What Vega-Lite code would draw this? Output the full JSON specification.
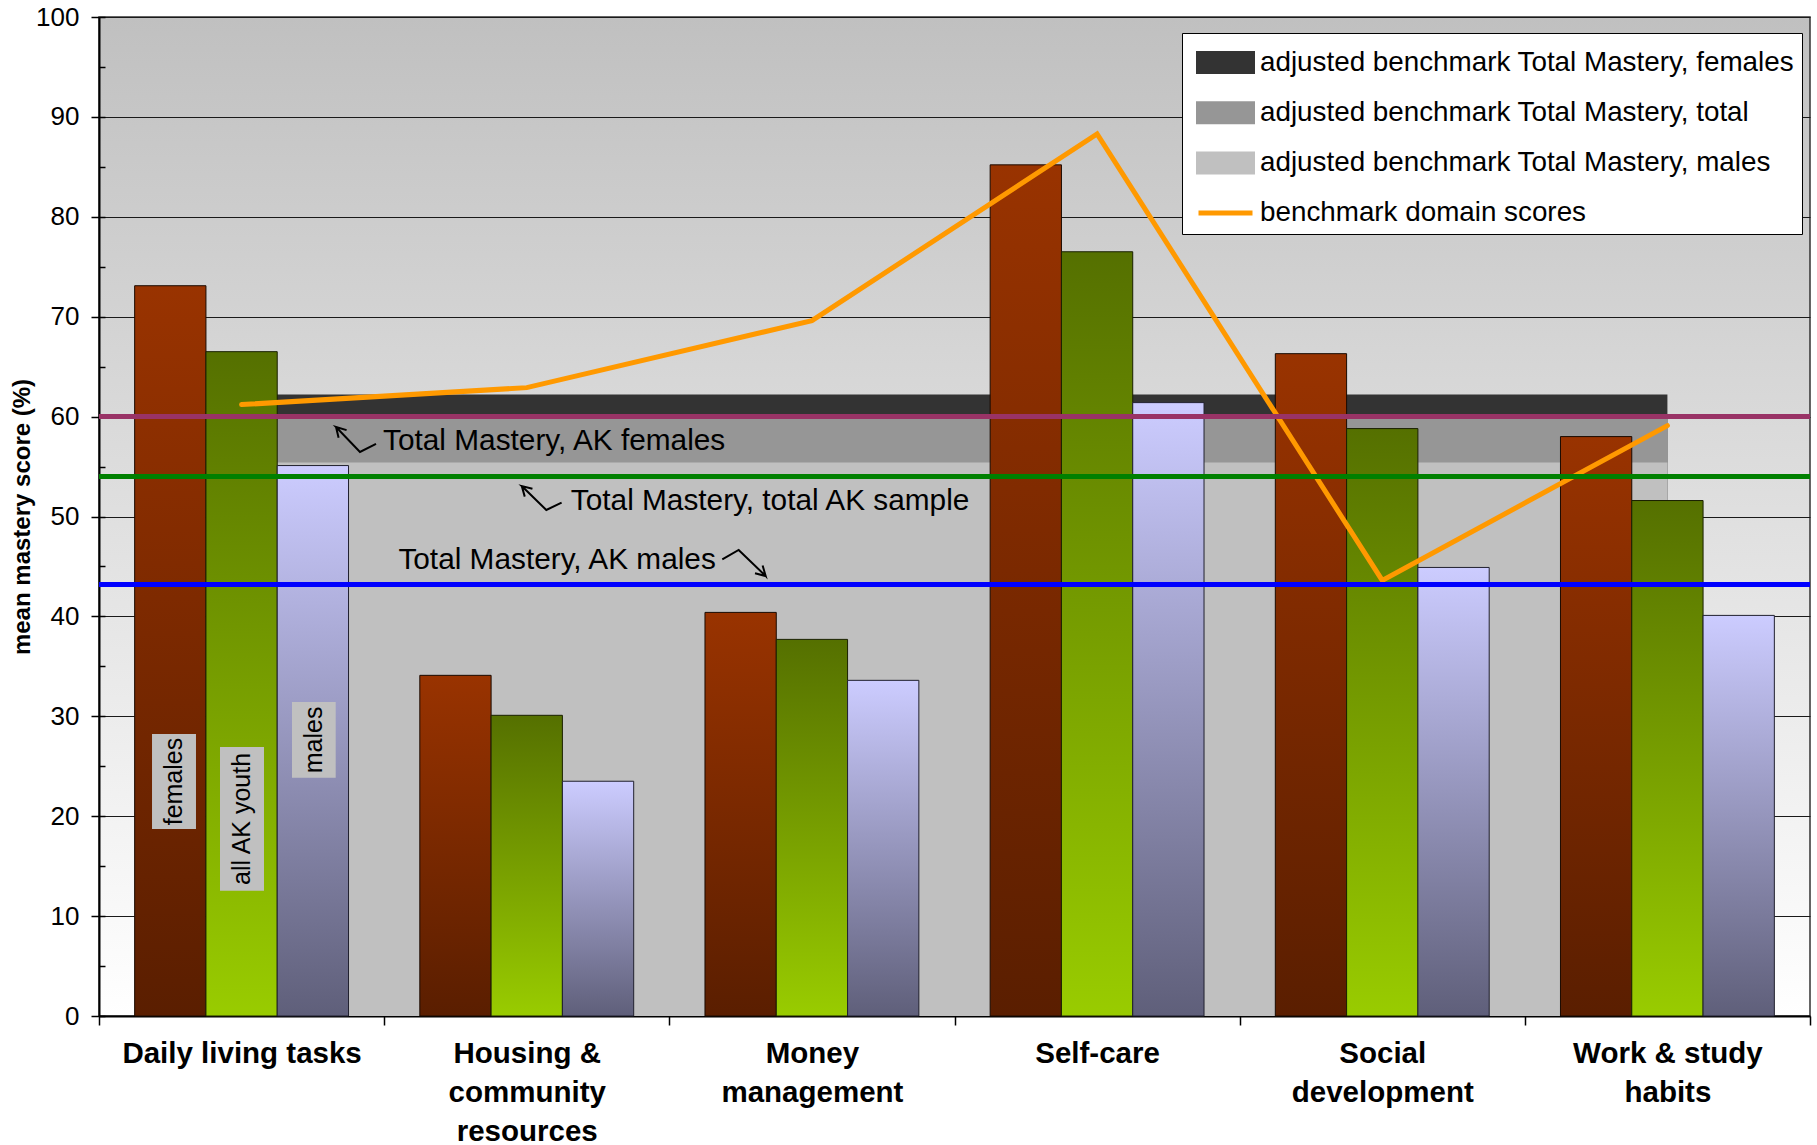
{
  "$schema": "https://vega.github.io/schema/vega-lite/v6.json",
  "width": 1711,
  "height": 999,
  "autosize": {"type": "none"},
  "padding": {"left": 99, "top": 17, "right": 7, "bottom": 129},
  "background": "white",
  "config": {
    "font": "Liberation Sans",
    "view": {
      "fill": {"gradient": "linear", "x1": 0, "y1": 0, "x2": 0, "y2": 1,
        "stops": [{"offset": 0, "color": "#c0c0c0"}, {"offset": 1, "color": "#ffffff"}]},
      "stroke": "#333333",
      "strokeWidth": 1.5
    }
  },
  "datasets": {
    "bars": [
      {"domain": "Daily living tasks", "group": "females", "score": 73.1},
      {"domain": "Daily living tasks", "group": "all", "score": 66.5},
      {"domain": "Daily living tasks", "group": "males", "score": 55.1},
      {"domain": "Housing & community resources", "group": "females", "score": 34.1},
      {"domain": "Housing & community resources", "group": "all", "score": 30.1},
      {"domain": "Housing & community resources", "group": "males", "score": 23.5},
      {"domain": "Money management", "group": "females", "score": 40.4},
      {"domain": "Money management", "group": "all", "score": 37.7},
      {"domain": "Money management", "group": "males", "score": 33.6},
      {"domain": "Self-care", "group": "females", "score": 85.2},
      {"domain": "Self-care", "group": "all", "score": 76.5},
      {"domain": "Self-care", "group": "males", "score": 61.4},
      {"domain": "Social development", "group": "females", "score": 66.3},
      {"domain": "Social development", "group": "all", "score": 58.8},
      {"domain": "Social development", "group": "males", "score": 44.9},
      {"domain": "Work & study habits", "group": "females", "score": 58.0},
      {"domain": "Work & study habits", "group": "all", "score": 51.6},
      {"domain": "Work & study habits", "group": "males", "score": 40.1}
    ],
    "benchmarks": [
      {"domain": "Daily living tasks", "series": "adjusted benchmark Total Mastery, females", "value": 62.2},
      {"domain": "Housing & community resources", "series": "adjusted benchmark Total Mastery, females", "value": 62.2},
      {"domain": "Money management", "series": "adjusted benchmark Total Mastery, females", "value": 62.2},
      {"domain": "Self-care", "series": "adjusted benchmark Total Mastery, females", "value": 62.2},
      {"domain": "Social development", "series": "adjusted benchmark Total Mastery, females", "value": 62.2},
      {"domain": "Work & study habits", "series": "adjusted benchmark Total Mastery, females", "value": 62.2},
      {"domain": "Daily living tasks", "series": "adjusted benchmark Total Mastery, total", "value": 60.1},
      {"domain": "Housing & community resources", "series": "adjusted benchmark Total Mastery, total", "value": 60.1},
      {"domain": "Money management", "series": "adjusted benchmark Total Mastery, total", "value": 60.1},
      {"domain": "Self-care", "series": "adjusted benchmark Total Mastery, total", "value": 60.1},
      {"domain": "Social development", "series": "adjusted benchmark Total Mastery, total", "value": 60.1},
      {"domain": "Work & study habits", "series": "adjusted benchmark Total Mastery, total", "value": 60.1},
      {"domain": "Daily living tasks", "series": "adjusted benchmark Total Mastery, males", "value": 55.4},
      {"domain": "Housing & community resources", "series": "adjusted benchmark Total Mastery, males", "value": 55.4},
      {"domain": "Money management", "series": "adjusted benchmark Total Mastery, males", "value": 55.4},
      {"domain": "Self-care", "series": "adjusted benchmark Total Mastery, males", "value": 55.4},
      {"domain": "Social development", "series": "adjusted benchmark Total Mastery, males", "value": 55.4},
      {"domain": "Work & study habits", "series": "adjusted benchmark Total Mastery, males", "value": 55.4}
    ],
    "domainScores": [
      {"domain": "Daily living tasks", "series": "benchmark domain scores", "score": 61.2},
      {"domain": "Housing & community resources", "series": "benchmark domain scores", "score": 62.9},
      {"domain": "Money management", "series": "benchmark domain scores", "score": 69.6},
      {"domain": "Self-care", "series": "benchmark domain scores", "score": 88.3},
      {"domain": "Social development", "series": "benchmark domain scores", "score": 43.6},
      {"domain": "Work & study habits", "series": "benchmark domain scores", "score": 59.1}
    ],
    "references": [
      {"ref": "Total Mastery, AK females", "level": 60.0},
      {"ref": "Total Mastery, total AK sample", "level": 54.0},
      {"ref": "Total Mastery, AK males", "level": 43.2}
    ],
    "notes": [
      {"note": "Total Mastery, AK females", "ax": 0.996, "ay": 56.66},
      {"note": "Total Mastery, total AK sample", "ax": 1.6545, "ay": 50.65},
      {"note": "Total Mastery, AK males", "ax": 1.0499, "ay": 44.71}
    ],
    "arrows": [
      {"arrow": "females", "ord": 1, "ax": 0.8402, "ay": 57.89},
      {"arrow": "females", "ord": 2, "ax": 0.8311, "ay": 58.96},
      {"arrow": "females", "ord": 3, "ax": 0.8682, "ay": 58.65},
      {"arrow": "females", "ord": 4, "ax": 0.8311, "ay": 58.96},
      {"arrow": "females", "ord": 5, "ax": 0.9152, "ay": 56.46},
      {"arrow": "females", "ord": 6, "ax": 0.9714, "ay": 57.26},
      {"arrow": "total", "ord": 1, "ax": 1.4930, "ay": 51.99},
      {"arrow": "total", "ord": 2, "ax": 1.4826, "ay": 53.05},
      {"arrow": "total", "ord": 3, "ax": 1.5200, "ay": 52.78},
      {"arrow": "total", "ord": 4, "ax": 1.4826, "ay": 53.05},
      {"arrow": "total", "ord": 5, "ax": 1.5686, "ay": 50.65},
      {"arrow": "total", "ord": 6, "ax": 1.6222, "ay": 51.38},
      {"arrow": "males", "ord": 1, "ax": 2.1857, "ay": 45.72},
      {"arrow": "males", "ord": 2, "ax": 2.2431, "ay": 46.65},
      {"arrow": "males", "ord": 3, "ax": 2.3379, "ay": 44.04},
      {"arrow": "males", "ord": 4, "ax": 2.3271, "ay": 45.09},
      {"arrow": "males", "ord": 5, "ax": 2.3379, "ay": 44.04},
      {"arrow": "males", "ord": 6, "ax": 2.3004, "ay": 44.31}
    ],
    "tags": [
      {"tag": "females", "x1": 0.1859, "x2": 0.3401, "y1": 18.72, "y2": 28.23, "cx": 0.2630, "cy": 23.47},
      {"tag": "all AK youth", "x1": 0.4243, "x2": 0.5786, "y1": 12.54, "y2": 26.93, "cx": 0.5015, "cy": 19.73},
      {"tag": "males", "x1": 0.6768, "x2": 0.8300, "y1": 23.85, "y2": 31.43, "cx": 0.7534, "cy": 27.64}
    ]
  },
  "layer": [
    {
      "layer": [
        {
          "data": {"name": "benchmarks"},
          "mark": {"type": "area", "opacity": 1},
          "encoding": {
            "x": {
              "field": "domain", "type": "nominal",
              "scale": {
                "domain": ["Daily living tasks", "Housing & community resources", "Money management", "Self-care", "Social development", "Work & study habits"],
                "paddingInner": 0, "paddingOuter": 0
              },
              "axis": {
                "title": null,
                "tickBand": "extent",
                "tickSize": 9, "tickColor": "#000000", "tickWidth": 1.5,
                "domainColor": "#000000", "domainWidth": 2,
                "labelFont": "Liberation Sans", "labelFontWeight": "bold", "labelFontSize": 29.5,
                "labelColor": "#000000", "labelAngle": 0, "labelPadding": 14,
                "labelLineHeight": 39, "labelLimit": 0, "labelBaseline": "top",
                "labelExpr": "datum.value == 'Housing & community resources' ? ['Housing &', 'community', 'resources'] : datum.value == 'Money management' ? ['Money', 'management'] : datum.value == 'Social development' ? ['Social', 'development'] : datum.value == 'Work & study habits' ? ['Work & study', 'habits'] : datum.label"
              }
            },
            "y": {
              "field": "value", "type": "quantitative", "stack": null,
              "scale": {"domain": [0, 100], "nice": false},
              "axis": {
                "title": "mean mastery score (%)",
                "titleFont": "Liberation Sans", "titleFontSize": 24, "titleFontWeight": "bold",
                "titleColor": "#000000", "titlePadding": 1,
                "values": [0, 10, 20, 30, 40, 50, 60, 70, 80, 90, 100],
                "tickSize": 8, "tickColor": "#000000", "tickWidth": 1.5,
                "labelFont": "Liberation Sans", "labelFontSize": 26, "labelColor": "#000000", "labelPadding": 12,
                "domainColor": "#000000", "domainWidth": 2,
                "grid": true, "gridColor": "#1a1a1a", "gridWidth": 1, "gridOpacity": 1
              }
            },
            "color": {
              "field": "series", "type": "nominal",
              "scale": {
                "domain": ["adjusted benchmark Total Mastery, females", "adjusted benchmark Total Mastery, total", "adjusted benchmark Total Mastery, males", "benchmark domain scores"],
                "range": ["#333333", "#969696", "#c0c0c0", "#ff9900"]
              },
              "legend": {
                "orient": "none", "legendX": 1083, "legendY": 16,
                "title": null,
                "labelFont": "Liberation Sans", "labelFontSize": 27.8, "labelColor": "#000000", "labelLimit": 0,
                "symbolSize": 1600, "symbolOffset": 14, "labelOffset": 12,
                "symbolType": {"expr": "datum.value === 'benchmark domain scores' ? 'M-1.35,0L1.35,0' : 'M-1.35,-0.45L1.35,-0.45L1.35,0.45L-1.35,0.45Z'"},
                "symbolStrokeColor": {"expr": "datum.value === 'benchmark domain scores' ? '#ff9900' : 'transparent'"},
                "symbolStrokeWidth": 5,
                "symbolOpacity": 1,
                "rowPadding": 8.2, "padding": 7,
                "fillColor": "#ffffff", "strokeColor": "#000000"
              }
            }
          }
        },
        {
          "data": {"name": "bars"},
          "transform": [{"filter": "datum.group === 'females'"}],
          "mark": {"type": "bar",
            "fill": {"gradient": "linear", "x1": 0, "y1": 0, "x2": 0, "y2": 1,
              "stops": [{"offset": 0, "color": "#993300"}, {"offset": 1, "color": "#5a1e00"}]},
            "stroke": "#1a0a00", "strokeWidth": 1},
          "encoding": {
            "x": {"field": "domain", "type": "nominal"},
            "xOffset": {"field": "group", "type": "nominal", "scale": {"domain": ["females", "all", "males"], "paddingInner": 0, "paddingOuter": 0.5}},
            "y": {"field": "score", "type": "quantitative", "scale": {"domain": [0, 100], "nice": false}}
          }
        },
        {
          "data": {"name": "bars"},
          "transform": [{"filter": "datum.group === 'all'"}],
          "mark": {"type": "bar",
            "fill": {"gradient": "linear", "x1": 0, "y1": 0, "x2": 0, "y2": 1,
              "stops": [{"offset": 0, "color": "#557000"}, {"offset": 1, "color": "#99cc00"}]},
            "stroke": "#1a2000", "strokeWidth": 1},
          "encoding": {
            "x": {"field": "domain", "type": "nominal"},
            "xOffset": {"field": "group", "type": "nominal", "scale": {"domain": ["females", "all", "males"], "paddingInner": 0, "paddingOuter": 0.5}},
            "y": {"field": "score", "type": "quantitative", "scale": {"domain": [0, 100], "nice": false}}
          }
        },
        {
          "data": {"name": "bars"},
          "transform": [{"filter": "datum.group === 'males'"}],
          "mark": {"type": "bar",
            "fill": {"gradient": "linear", "x1": 0, "y1": 0, "x2": 0, "y2": 1,
              "stops": [{"offset": 0, "color": "#ccccff"}, {"offset": 1, "color": "#5f5f7a"}]},
            "stroke": "#20202e", "strokeWidth": 1},
          "encoding": {
            "x": {"field": "domain", "type": "nominal"},
            "xOffset": {"field": "group", "type": "nominal", "scale": {"domain": ["females", "all", "males"], "paddingInner": 0, "paddingOuter": 0.5}},
            "y": {"field": "score", "type": "quantitative", "scale": {"domain": [0, 100], "nice": false}}
          }
        },
        {
          "data": {"name": "domainScores"},
          "mark": {"type": "line", "strokeWidth": 5, "strokeCap": "round", "strokeJoin": "miter"},
          "encoding": {
            "x": {"field": "domain", "type": "nominal"},
            "y": {"field": "score", "type": "quantitative", "scale": {"domain": [0, 100], "nice": false}},
            "color": {"field": "series", "type": "nominal", "legend": null}
          }
        },
        {
          "data": {"name": "references"},
          "mark": {"type": "rule", "strokeWidth": 5},
          "encoding": {
            "y": {"field": "level", "type": "quantitative", "scale": {"domain": [0, 100], "nice": false}},
            "stroke": {
              "field": "ref", "type": "nominal",
              "scale": {"domain": ["Total Mastery, AK females", "Total Mastery, total AK sample", "Total Mastery, AK males"], "range": ["#993366", "#008000", "#0000ff"]},
              "legend": null
            }
          }
        }
      ]
    },
    {
      "layer": [
        {
          "data": {"name": "tags"},
          "mark": {"type": "rect", "fill": "#c0c0c0"},
          "encoding": {
            "x": {"field": "x1", "type": "quantitative", "scale": {"domain": [0, 6], "nice": false, "zero": false}, "axis": null},
            "x2": {"field": "x2"},
            "y": {
              "field": "y1", "type": "quantitative", "scale": {"domain": [0, 100], "nice": false},
              "axis": {
                "orient": "left", "title": null, "labels": false, "domain": false, "grid": false,
                "values": [0, 5, 10, 15, 20, 25, 30, 35, 40, 45, 50, 55, 60, 65, 70, 75, 80, 85, 90, 95, 100],
                "tickSize": -6, "tickColor": "#000000", "tickWidth": 1.5
              }
            },
            "y2": {"field": "y2"}
          }
        },
        {
          "data": {"name": "tags"},
          "mark": {"type": "text", "angle": 270, "align": "center", "baseline": "middle", "fontSize": 25, "font": "Liberation Sans", "color": "#000000"},
          "encoding": {
            "x": {"field": "cx", "type": "quantitative", "scale": {"domain": [0, 6], "nice": false, "zero": false}, "axis": null},
            "y": {"field": "cy", "type": "quantitative", "scale": {"domain": [0, 100], "nice": false}},
            "text": {"field": "tag"}
          }
        },
        {
          "data": {"name": "arrows"},
          "mark": {"type": "line", "color": "#000000", "strokeWidth": 2, "strokeJoin": "miter"},
          "encoding": {
            "x": {"field": "ax", "type": "quantitative", "scale": {"domain": [0, 6], "nice": false, "zero": false}, "axis": null},
            "y": {"field": "ay", "type": "quantitative", "scale": {"domain": [0, 100], "nice": false}},
            "detail": {"field": "arrow"},
            "order": {"field": "ord"}
          }
        },
        {
          "data": {"name": "notes"},
          "mark": {"type": "text", "align": "left", "baseline": "alphabetic", "fontSize": 29.8, "font": "Liberation Sans", "color": "#000000"},
          "encoding": {
            "x": {"field": "ax", "type": "quantitative", "scale": {"domain": [0, 6], "nice": false, "zero": false}, "axis": null},
            "y": {"field": "ay", "type": "quantitative", "scale": {"domain": [0, 100], "nice": false}},
            "text": {"field": "note"}
          }
        }
      ]
    }
  ],
  "resolve": {"scale": {"x": "independent"}, "axis": {"x": "independent", "y": "independent"}}
}
